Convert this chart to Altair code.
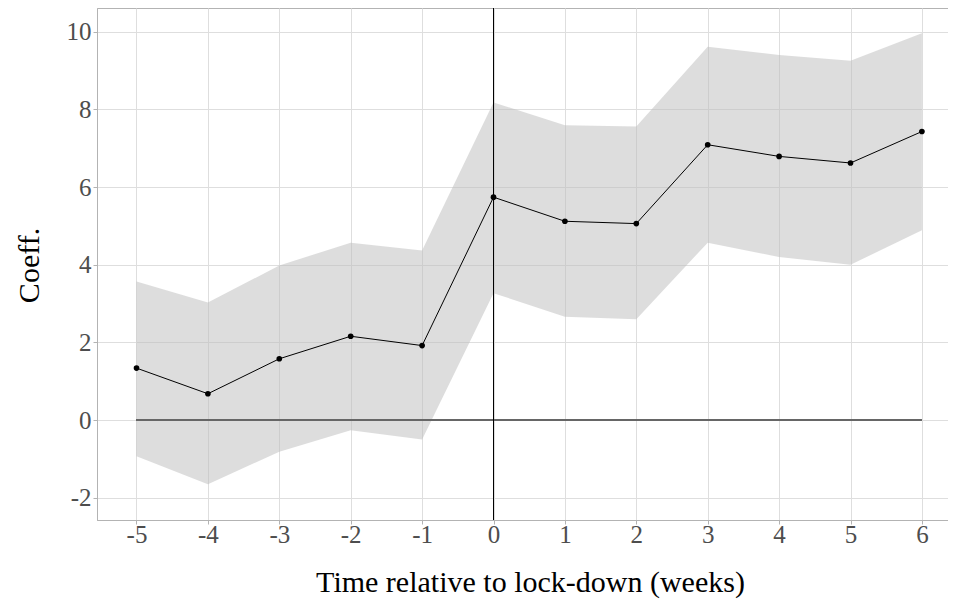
import altair as alt
import pandas as pd

weeks = [-5, -4, -3, -2, -1, 0, 1, 2, 3, 4, 5, 6]
coef = [1.34, 0.68, 1.58, 2.16, 1.92, 5.74, 5.12, 5.06, 7.09, 6.79, 6.62, 7.43]
upper = [3.57, 3.03, 3.98, 4.57, 4.37, 8.18, 7.59, 7.56, 9.61, 9.40, 9.25, 9.96]
lower = [-0.93, -1.65, -0.81, -0.26, -0.50, 3.27, 2.66, 2.60, 4.57, 4.20, 4.00, 4.89]

x_ticks = list(range(-5, 7))
y_ticks = [-2, 0, 2, 4, 6, 8, 10]

df = pd.DataFrame({"week": weeks, "coef": coef, "upper": upper, "lower": lower})

FONT = "Liberation Serif"

xscale = alt.Scale(domain=[-5.5532, 6.3655], nice=False, zero=False)
yscale = alt.Scale(domain=[-2.57, 10.61], nice=False, zero=False)

xaxis = alt.Axis(values=x_ticks, labelExpr="'' + datum.value",
                 labelBaseline="alphabetic", labelPadding=18,
                 title="Time relative to lock-down (weeks)",
                 titleX=433, titleY=71, titleBaseline="alphabetic", titleAlign="center")
yaxis = alt.Axis(values=y_ticks, labelExpr="'' + datum.value", labelPadding=2,
                 title="Coeff.",
                 titleX=-59, titleY=257, titleAngle=270, titleAlign="center",
                 titleBaseline="alphabetic")

X = alt.X("week:Q", scale=xscale, axis=xaxis, title="Time relative to lock-down (weeks)")

base = alt.Chart(df)

band = base.mark_area(color="#bbbbbb", opacity=0.5).encode(
    x=X,
    y=alt.Y("lower:Q", scale=yscale, axis=yaxis, title="Coeff."),
    y2="upper:Q",
)

zero = alt.Chart(df).mark_rule(color="#666666", strokeWidth=1.5).encode(
    x=alt.datum(-5), x2=alt.datum(6), y=alt.datum(0)
)

vline = alt.Chart(df).mark_rule(color="black", strokeWidth=1).encode(
    x=alt.datum(0)
)

line = base.mark_line(color="black", strokeWidth=1).encode(
    x=X, y=alt.Y("coef:Q", scale=yscale, axis=yaxis, title="Coeff.")
)

pts = base.mark_circle(color="black", opacity=1, size=32).encode(
    x=X, y=alt.Y("coef:Q", scale=yscale, axis=yaxis, title="Coeff.")
)

chart = alt.layer(band, zero, vline, line, pts).properties(
    width=851, height=512,
    padding={"left": 89, "top": 0, "right": 0, "bottom": 79},
    autosize=alt.AutoSizeParams(type="none"),
).configure_view(stroke="#B3B3B3").configure_axis(
    labelFont=FONT, titleFont=FONT, labelFontSize=25, titleFontSize=30,
    titleFontWeight="normal", labelColor="#4D4D4D", titleColor="black",
    gridColor="#DEDEDE", gridWidth=1, tickColor="#B3B3B3", domainColor="#B3B3B3",
    tickSize=4,
)

chart.save("out.html", embed_options={"renderer": "svg", "actions": False})
